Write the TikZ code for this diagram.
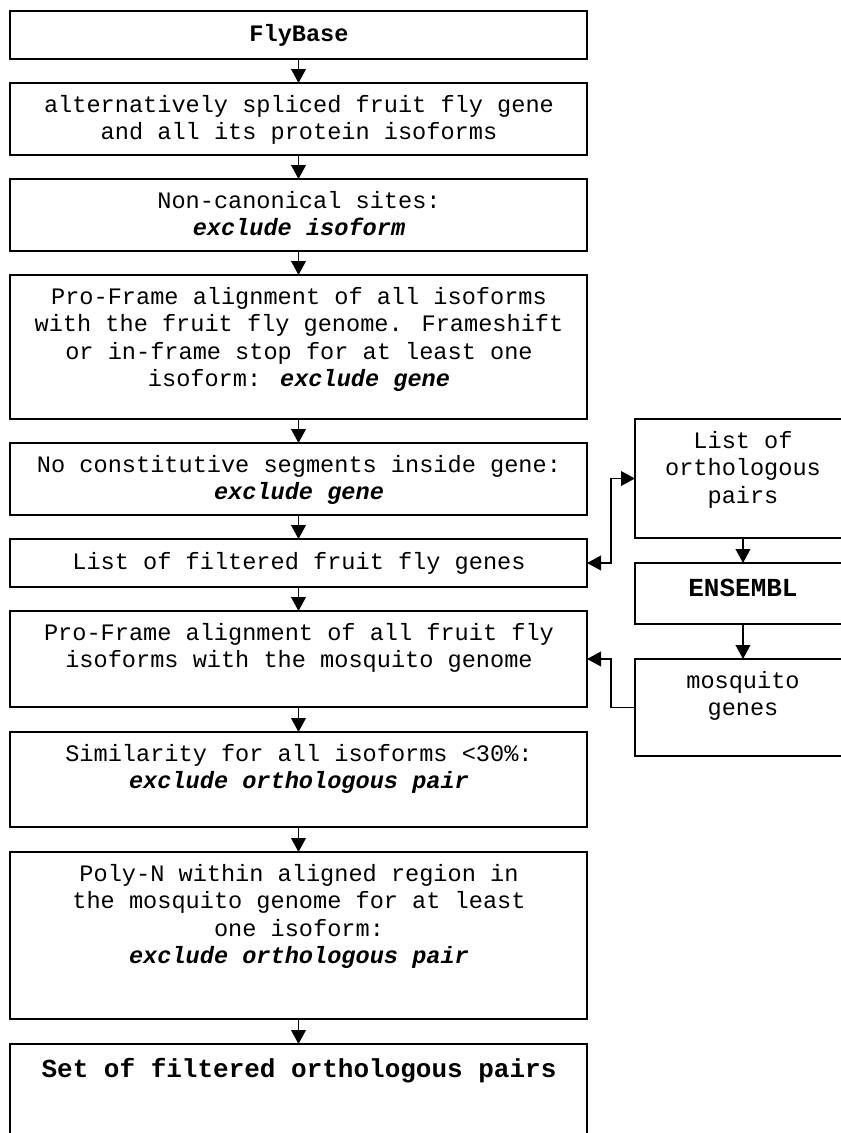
\documentclass[tikz,border=0pt]{standalone}
\usepackage{fontspec}
\setmainfont{Liberation Mono}
\setmonofont{Liberation Mono}
\usetikzlibrary{arrows.meta}
\newcommand{\fstrut}{\rule{0pt}{14pt}}
\newcommand{\bfit}[1]{\textbf{\textit{#1}}}
\begin{document}
\begin{tikzpicture}[x=0.75pt,y=-0.75pt,
  box/.style={draw=black, line width=1.2pt, rectangle, inner sep=0pt, outer sep=0pt, anchor=north west},
  mainbox/.style={box, minimum width=432.75pt},
  sidebox/.style={box, minimum width=162pt},
  txt/.style={inner sep=0pt, outer sep=0pt, align=center, anchor=north,
     font=\fontsize{17.7pt}{20.6pt}\selectfont, execute at begin node={\fstrut}},
  bigtxt/.style={txt, font=\fontsize{19.5pt}{22pt}\selectfont\bfseries},
  arr/.style={line width=1.2pt, -{Triangle[length=10.5pt,width=11pt]}},
  arrs/.style={line width=1.2pt, {Triangle[length=10.5pt,width=11pt]}-{Triangle[length=10.5pt,width=11pt]}}
]
\useasboundingbox (0,0) rectangle (841,1133);
\clip (0,0) rectangle (841,1133);
\fill[white] (0,0) rectangle (841,1133);

% main column boxes
\node[mainbox, minimum height=36pt]    (b1)  at (10,11)   {};
\node[mainbox, minimum height=54pt]    (b2)  at (10,83)   {};
\node[mainbox, minimum height=54pt]    (b3)  at (10,179)  {};
\node[mainbox, minimum height=108pt]   (b4)  at (10,275)  {};
\node[mainbox, minimum height=54pt]    (b5)  at (10,443)  {};
\node[mainbox, minimum height=36pt]    (b6)  at (10,539)  {};
\node[mainbox, minimum height=72pt]    (b7)  at (10,611)  {};
\node[mainbox, minimum height=71.25pt] (b8)  at (10,732)  {};
\node[mainbox, minimum height=125.25pt](b9)  at (10,852)  {};
\node[mainbox, minimum height=79.5pt]  (b10) at (10,1044) {};

% side column boxes
\node[sidebox, minimum height=89.25pt] (r1) at (635,419) {};
\node[sidebox, minimum height=45.75pt] (r2) at (635,563) {};
\node[sidebox, minimum height=72.75pt] (r3) at (635,659) {};

% texts
\node[txt] (t1) at (299,23.3) {\textbf{FlyBase}};
\node[txt] (t2) at (299,95.3) {alternatively spliced fruit fly gene\\and all its protein isoforms};
\node[txt] (t3) at (299,191.3) {Non-canonical sites:\\\bfit{exclude isoform}};
\node[txt] (t4) at (299,287.3) {Pro-Frame alignment of all isoforms\\with the fruit fly genome. Frameshift\\or in-frame stop for at least one\\isoform: \bfit{exclude gene}};
\node[txt] (t5) at (299,455.3) {No constitutive segments inside gene:\\\bfit{exclude gene}};
\node[txt] (t6) at (299,551.3) {List of filtered fruit fly genes};
\node[txt] (t7) at (299,623.3) {Pro-Frame alignment of all fruit fly\\isoforms with the mosquito genome};
\node[txt] (t8) at (299,744.3) {Similarity for all isoforms <30\%:\\\bfit{exclude orthologous pair}};
\node[txt] (t9) at (299,864.3) {Poly-N within aligned region in\\the mosquito genome for at least\\one isoform:\\\bfit{exclude orthologous pair}};
\node[bigtxt] (t10) at (299,1058.3) {Set of filtered orthologous pairs};
\node[txt] (s1) at (743,431.3) {List of\\orthologous\\pairs};
\node[bigtxt] (s2) at (743,578.3) {ENSEMBL};
\node[txt] (s3) at (743,671.3) {mosquito\\genes};

% connectors
\draw[arr] (b1.south) -- (b2.north);
\draw[arr] (b2.south) -- (b3.north);
\draw[arr] (b3.south) -- (b4.north);
\draw[arr] (b4.south) -- (b5.north);
\draw[arr] (b5.south) -- (b6.north);
\draw[arr] (b6.south) -- (b7.north);
\draw[arr] (b7.south) -- (b8.north);
\draw[arr] (b8.south) -- (b9.north);
\draw[arr] (b9.south) -- (b10.north);
\draw[arr] (r1.south) -- (r2.north);
\draw[arr] (r2.south) -- (r3.north);
\draw[arrs] (r1.west) -- ++(-24,0) |- (b6.east);
\draw[arr] (r3.west) -- ++(-24,0) |- (b7.east);
\end{tikzpicture}
\end{document}
